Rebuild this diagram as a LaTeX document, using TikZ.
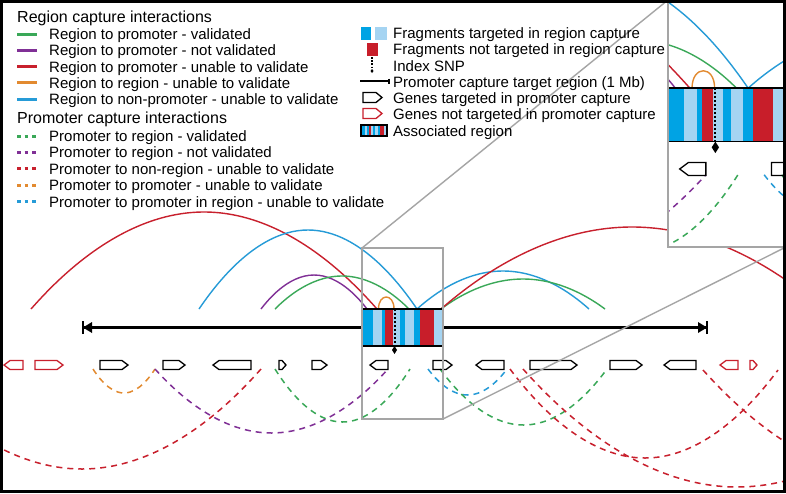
\documentclass[tikz,border=0pt]{standalone}
\usepackage{fontspec}
\setmainfont{Liberation Sans}
\definecolor{cgreen}{RGB}{58,168,88}
\definecolor{cpurple}{RGB}{128,48,150}
\definecolor{cred}{RGB}{200,32,45}
\definecolor{corange}{RGB}{226,138,48}
\definecolor{cblue}{RGB}{38,155,215}
\definecolor{bblue}{RGB}{0,163,228}
\definecolor{lblue}{RGB}{165,212,242}
\definecolor{bred}{RGB}{200,30,42}
\definecolor{cgray}{RGB}{165,165,165}
\tikzset{
  arcsolid/.style={line width=1.4pt},
  arcdash/.style={line width=1.5pt, dash pattern=on 6pt off 5pt},
  gene/.style={line width=1.3pt, line join=miter},
  legtext/.style={font=\fontsize{15}{18}\selectfont, inner sep=0pt, anchor=base west},
  legtitle/.style={font=\fontsize{16}{19}\selectfont, inner sep=0pt, anchor=base west},
  legsolid/.style={line width=3pt},
  legdot/.style={line width=3pt, dash pattern=on 3.5pt off 4pt},
  grayline/.style={cgray, line width=1.4pt},
  trackline/.style={line width=2.4pt}
}
% right-pointing gene: x0, x1, y centre, colour
\newcommand\geneR[4]{\draw[gene,#4] (#1,{#3-4.5}) -- ({max(#1+3,#2-6)},{#3-4.5}) -- (#2,#3) -- ({max(#1+3,#2-6)},{#3+4.5}) -- (#1,{#3+4.5}) -- cycle;}
\newcommand\geneL[4]{\draw[gene,#4] (#2,{#3-4.5}) -- ({min(#2-3,#1+6)},{#3-4.5}) -- (#1,#3) -- ({min(#2-3,#1+6)},{#3+4.5}) -- (#2,{#3+4.5}) -- cycle;}
% striped associated region: x0 y0 x1 y1
\newcommand\stripes[4]{%
  \foreach \sa/\sb/\sc in {0/.136/bblue, .136/.246/lblue, .246/.29/bblue, .29/.381/bred, .381/.463/lblue, .463/.531/bblue, .531/.636/lblue, .636/.72/bblue, .72/.89/bred, .89/1/lblue}
    \fill[\sc] ({#1+\sa*(#3-#1)},#2) rectangle ({#1+\sb*(#3-#1)},#4);
  \draw[line width=1.3pt] (#1,#2) rectangle (#3,#4);
}
\newcommand\scenecontent{%
  % region capture (solid) arcs
  \draw[arcsolid,cred] (31,309) parabola bend (204,212) (377,309);
  \draw[arcsolid,cblue] (199,309) parabola bend (308,230) (417,309);
  \draw[arcsolid,cpurple] (261,309) parabola bend (314,275) (367,309);
  \draw[arcsolid,cgreen] (275,309) parabola bend (342,276) (409,309);
  \draw[arcsolid,corange] (378.5,309) .. controls (378.5,293) and (394,293) .. (394,309);
  \draw[arcsolid,cblue] (417,309) parabola bend (503,271) (589,309);
  \draw[arcsolid,cgreen] (441,309) parabola bend (523,279) (605,309);
  \draw[arcsolid,cred] (441,309) parabola bend (632,227) (823,309);
  % promoter capture (dashed) arcs
  \draw[arcdash,corange] (93,369) parabola bend (124,393) (155,369);
  \draw[arcdash,cpurple] (155,369) parabola bend (271.5,433) (388,369);
  \draw[arcdash,cred] (261,369) parabola bend (82,469) (-97,369);
  \draw[arcdash,cgreen] (275,369) parabola bend (342.5,422) (410,369);
  \draw[arcdash,cblue] (428,369) parabola bend (467.5,395) (507,369);
  \draw[arcdash,cgreen] (440,369) parabola bend (523.5,425) (607,369);
  \draw[arcdash,cred] (510,369) parabola bend (645,458) (778,370);
  \draw[arcdash,cred] (523,369) parabola bend (737,487) (951,369);
  \draw[arcdash,cred] (703,370) parabola bend (903,480) (1103,370);
  % promoter capture target region (track)
  \coordinate (tl) at (83,327.5);
  \coordinate (tr) at (707,327.5);
  \draw[trackline] (tl) -- (tr);
  \draw[trackline] ([yshift=-6.5pt]tl) -- ([yshift=6.5pt]tl);
  \draw[trackline] ([yshift=-6.5pt]tr) -- ([yshift=6.5pt]tr);
  \fill (tl) -- ++(9,-5.5) -- ++(0,11) -- cycle;
  \fill (tr) -- ++(-9,-5.5) -- ++(0,11) -- cycle;
  % associated region
  \stripes{362}{309}{443}{346}
  \draw[line width=2pt, dash pattern=on 2.2pt off 1.8pt] (394.5,309) -- (394.5,348);
  \fill (394.5,346) -- (397,350) -- (394.5,354) -- (392,350) -- cycle;
  % genes
  \geneL{4}{23}{365}{cred}
  \geneR{35}{63}{365}{cred}
  \geneR{100}{128}{365}{black}
  \geneR{163}{185}{365}{black}
  \geneL{213}{251}{365}{black}
  \geneR{279}{286}{365}{black}
  \geneR{312}{327}{365}{black}
  \geneL{370}{388}{365}{black}
  \geneR{433}{452}{365}{black}
  \geneL{476}{504}{365}{black}
  \geneR{530}{577}{365}{black}
  \geneR{610}{642}{365}{black}
  \geneL{664}{696}{365}{black}
  \geneL{720}{738}{365}{cred}
  \geneR{750}{757}{365}{cred}
}
\begin{document}
\begin{tikzpicture}[x=1pt,y=-1pt]
\useasboundingbox (0,0) rectangle (786,493);
\clip (0,0) rectangle (786,493);
\fill[white] (0,0) rectangle (786,493);
\scenecontent
% small selection box and zoom lines
\draw[grayline] (362,248) rectangle (443,419);
\coordinate (sbtl) at (362,248);
\coordinate (sbbr) at (443,419);
\coordinate (intl) at (668,0);
\coordinate (inbr) at (786,247);
\draw[grayline] (sbtl) -- (intl);
\draw[grayline] (sbbr) -- (inbr);
% inset
\begin{scope}
  \fill[white] (668,0) rectangle (786,247);
  \clip (668,0) rectangle (786,247);
  \begin{scope}[shift={(668,0)}, xscale=1.4568, yscale=1.4444, shift={(-362,-248)}]
    \scenecontent
  \end{scope}
\end{scope}
\draw[grayline] (668,0) rectangle (786,247);
% legend left
\node[legtitle] (h1) at (17,22) {Region capture interactions};
\foreach \yy/\cc/\tt [count=\i] in {34/cgreen/{Region to promoter - validated},
  50.3/cpurple/{Region to promoter - not validated},
  66.6/cred/{Region to promoter - unable to validate},
  82.9/corange/{Region to region - unable to validate},
  99.2/cblue/{Region to non-promoter - unable to validate}}{
  \draw[legsolid,\cc] (17,\yy) -- (37,\yy);
  \node[legtext] (ls\i) at (49,\yy+5.4) {\tt};
}
\node[legtitle] (h2) at (17,123.5) {Promoter capture interactions};
\foreach \yy/\cc/\tt [count=\i] in {136/cgreen/{Promoter to region - validated},
  152.4/cpurple/{Promoter to region - not validated},
  168.8/cred/{Promoter to non-region - unable to validate},
  185.2/corange/{Promoter to promoter - unable to validate},
  201.6/cblue/{Promoter to promoter in region - unable to validate}}{
  \draw[legdot,\cc] (17,\yy) -- (37,\yy);
  \node[legtext] (ld\i) at (49,\yy+5.4) {\tt};
}
% legend right
\fill[bblue] (361,27) rectangle (371,40);
\fill[lblue] (375,27) rectangle (387,40);
\node[legtext] (r1) at (393,38.5) {Fragments targeted in region capture};
\fill[bred] (367,43) rectangle (378,56);
\node[legtext] (r2) at (393,54.8) {Fragments not targeted in region capture};
\draw[line width=1.6pt, dash pattern=on 1.6pt off 1.6pt] (372,57) -- (372,70);
\fill (372,69) -- (373.5,71) -- (372,73) -- (370.5,71) -- cycle;
\node[legtext] (r3) at (393,71) {Index SNP};
\draw[line width=1.2pt] (360,81) -- (389,81);
\draw[line width=1.2pt] (389,78.5) -- (389,83.5);
\node[legtext] (r4) at (393,87) {Promoter capture target region (1 Mb)};
\draw[gene] (363,92.5) -- (376,92.5) -- (382,97.5) -- (376,102.5) -- (363,102.5) -- cycle;
\node[legtext] (r5) at (393,103.3) {Genes targeted in promoter capture};
\draw[gene,cred] (363,108.5) -- (376,108.5) -- (382,113.5) -- (376,118.5) -- (363,118.5) -- cycle;
\node[legtext] (r6) at (393,119.6) {Genes not targeted in promoter capture};
\stripes{361}{125}{387}{136}
\node[legtext] (r7) at (393,136) {Associated region};
% outer frame
\draw[line width=3pt] (1.5,1.5) rectangle (784.5,491.5);
\end{tikzpicture}
\end{document}
